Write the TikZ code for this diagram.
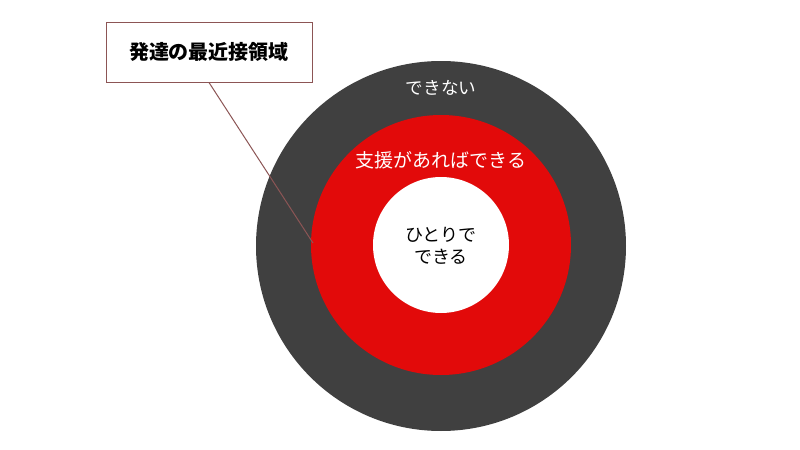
\documentclass[tikz,border=0pt]{standalone}
\usepackage{fontspec}
\usepackage{xcolor}
\usepackage{tikz}
\usetikzlibrary{positioning}
\newfontfamily\jpfont{Noto Sans CJK JP}
\definecolor{ringgray}{RGB}{64, 64, 64}
\definecolor{ringred}{RGB}{226, 10, 10}
\definecolor{leadline}{RGB}{140, 85, 85}

\begin{document}
\begin{tikzpicture}[x=0.5pt, y=-0.5pt,
    ring/.style={circle, inner sep=0pt, draw=none},
    ringtext/.style={font=\jpfont\fontsize{9}{11}\selectfont, align=center},
    callout/.style={draw=leadline, line width=0.5pt, fill=white, minimum width=103pt, minimum height=30pt, font=\jpfont\bfseries\fontsize{10}{12}\selectfont}]
        \useasboundingbox[fill=white] (0,0) rectangle (800,450);

        % 同心円
        \node[ring, fill=ringgray, minimum size=185pt] (outer) at (441,246) {};
        \node[ring, fill=ringred, minimum size=130pt] (middle) at (441,245) {};
        \node[ring, fill=white, minimum size=68pt] (inner) at (441,245) {};

        % 各領域のラベル
        \node[ringtext, white, font=\jpfont\fontsize{8.8}{11}\selectfont] (cannot) at (441,88) {できない};
        \node[ringtext, white, font=\jpfont\fontsize{9.5}{11}\selectfont] (withhelp) at (441,160) {支援があればできる};
        \node[ringtext, black] (alone) at (441,246) {ひとりで\\できる};

        % 吹き出し
        \node[callout] (zpd) at (209,52) {発達の最近接領域};
        \coordinate (zpdtip) at (313,243);
        \draw[leadline, line width=0.5pt] (zpd.south) -- (zpdtip);
    \end{tikzpicture}
\end{document}
